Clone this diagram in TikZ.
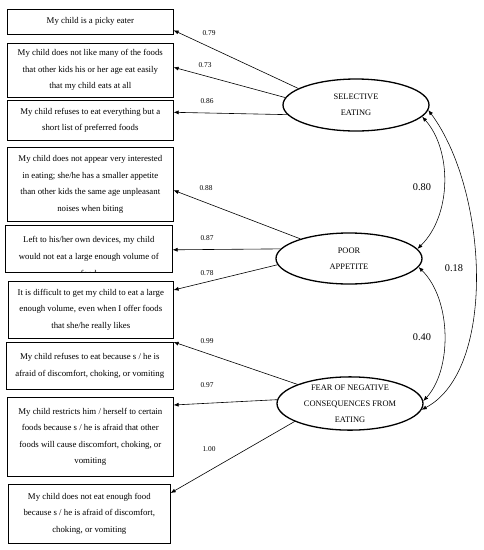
\documentclass[tikz,border=0pt]{standalone}
\usepackage{fontspec}
\setmainfont{Liberation Serif}
\usetikzlibrary{shapes.geometric,arrows.meta}
\begin{document}
\begin{tikzpicture}[x=1pt,y=-1pt,
  itembox/.style={draw, line width=0.6pt, anchor=north west, inner sep=0pt, align=center,
    font=\fontsize{8.8}{16.5}\selectfont},
  latent/.style={ellipse, draw, line width=1.3pt, inner sep=0pt, align=center,
    minimum width=146pt, font=\fontsize{8.4}{16}\selectfont},
  load/.style={line width=0.6pt, -{Latex[length=5pt,width=4pt]}},
  corr/.style={line width=0.55pt, {Latex[length=5pt,width=4pt]}-{Latex[length=5pt,width=4pt]}},
  lbl/.style={inner sep=0pt, font=\fontsize{7.4}{9}\selectfont},
  clbl/.style={inner sep=0pt, font=\fontsize{10.3}{12}\selectfont}]
\useasboundingbox (0,0) rectangle (483,550);

% item boxes
\node[itembox, minimum width=166pt, minimum height=25pt] (b1) at (7,9) {My child is a picky eater};
\node[itembox, minimum width=166pt, minimum height=54pt] (b2) at (7,43) {My child does not like many of the foods\\that other kids his or her age eat easily\\that my child eats at all};
\node[itembox, minimum width=166pt, minimum height=40pt] (b3) at (7,100) {My child refuses to eat everything but a\\short list of preferred foods};
\node[itembox, minimum width=166pt, minimum height=74pt] (b4) at (7,147) {My child does not appear very interested\\in eating; she/he has a smaller appetite\\than other kids the same age unpleasant\\noises when biting};
\node[itembox, minimum width=167pt, minimum height=47pt] (b5) at (5,225) {Left to his/her own devices, my child\\would not eat a large enough volume of};
\begin{scope}
  \clip (b5.south west) rectangle (b5.north east);
  \node[inner sep=0pt, font=\fontsize{8.8}{16.5}\selectfont] (b5x) at ([yshift=-25pt]b5.center) {food};
\end{scope}
\node[itembox, minimum width=165pt, minimum height=57pt] (b6) at (8,281) {It is difficult to get my child to eat a large\\enough volume, even when I offer foods\\that she/he really likes};
\node[itembox, minimum width=167pt, minimum height=47pt] (b7) at (6,342) {My child refuses to eat because s / he is\\afraid of discomfort, choking, or vomiting};
\node[itembox, minimum width=166pt, minimum height=79pt] (b8) at (7,397) {My child restricts him / herself to certain\\foods because s / he is afraid that other\\foods will cause discomfort, choking, or\\vomiting};
\node[itembox, minimum width=162pt, minimum height=59pt] (b9) at (8,484) {My child does not eat enough food\\because s / he is afraid of discomfort,\\choking, or vomiting};

% latent variables
\node[latent, minimum height=52pt] (sel) at (356,105) {SELECTIVE\\EATING};
\node[latent, minimum height=51pt] (pa) at (349,258.5) {POOR\\APPETITE};
\node[latent, minimum height=53pt] (fe) at (350,403.5) {FEAR OF NEGATIVE\\CONSEQUENCES FROM\\EATING};

% loadings
\draw[load] (sel.164) -- ([yshift=-8.5pt]b1.east);
\draw[load] (sel.174) -- ([yshift=3pt]b2.east);
\draw[load] (sel.188) -- ([yshift=8pt]b3.east);
\draw[load] (pa.158) -- ([yshift=-6pt]b4.east);
\draw[load] (pa.172) -- ([yshift=-1pt]b5.east);
\draw[load] (pa.185) -- ([yshift=-9pt]b6.north east);
\draw[load] (fe.160) -- (b7.north east);
\draw[load] (fe.177) -- ([yshift=-8pt]b8.north east);
\draw[load] (fe.198) -- ([yshift=-9pt]b9.north east);

\node[lbl] (l1) at (209,33) {0.79};
\node[lbl] (l2) at (205,65) {0.73};
\node[lbl] (l3) at (207,101) {0.86};
\node[lbl] (l4) at (206,188) {0.88};
\node[lbl] (l5) at (207,238) {0.87};
\node[lbl] (l6) at (207,273) {0.78};
\node[lbl] (l7) at (207,341) {0.99};
\node[lbl] (l8) at (207,385) {0.97};
\node[lbl] (l9) at (209,449) {1.00};

% correlations
\draw[corr] (sel.-10) .. controls (452,150) and (452,215) .. (pa.8);
\draw[corr] (pa.-7) .. controls (452,300) and (452,370) .. (fe.2);
\draw[corr] (sel.-4) .. controls (488,190) and (497,370) .. (fe.-5);
\node[clbl] (c1) at (422,187) {0.80};
\node[clbl] (c2) at (422,337) {0.40};
\node[clbl] (c3) at (454,268) {0.18};
\end{tikzpicture}
\end{document}
